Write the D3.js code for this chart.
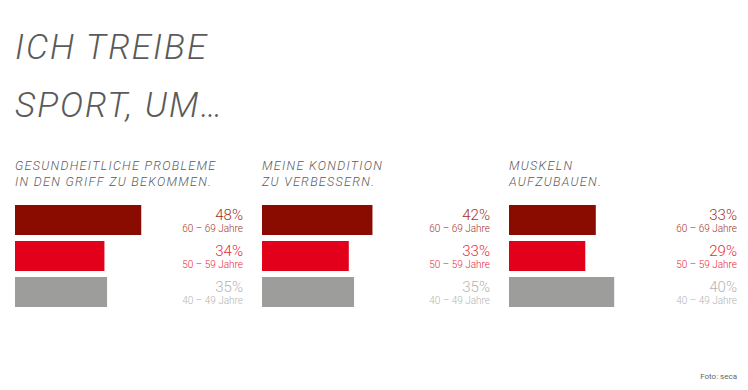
<!DOCTYPE html>
<html>
<head>
<meta charset="utf-8">
<script src="https://cdn.jsdelivr.net/npm/d3@7"></script>
<style>
  body { margin: 0; background: #fff; }
  svg { display: block; }
  text { font-family: Roboto, "Liberation Sans", Arial, sans-serif; }
</style>
</head>
<body>
<div id="chart"></div>
<script>
// chart data
const titleLines = ['ICH TREIBE', 'SPORT, UM…']
const panelTitles = [
    ['GESUNDHEITLICHE PROBLEME', 'IN DEN GRIFF ZU BEKOMMEN.'],
    ['MEINE KONDITION', 'ZU VERBESSERN.'],
    ['MUSKELN', 'AUFZUBAUEN.']
]
const ageGroups = ['60 – 69 Jahre', '50 – 59 Jahre', '40 – 49 Jahre']
const values = [
    [48, 34, 35],
    [42, 33, 35],
    [33, 29, 40]
]
const source = 'Foto: seca'

const width = 748
const height = 390
const barColor = ['#8a0b00', '#e2001a', '#9d9d9c']
const labelColor = ['#a3322a', '#e8283a', '#b4b4b4']

const svg = d3.select('#chart').append('svg')
    .attr('width', width)
    .attr('height', height)

// big title
svg.append('g').attr('class', 'title')
    .selectAll('text')
    .data(titleLines)
    .join('text')
    .attr('x', 15)
    .attr('y', (d, i) => 59 + i * 57.5)
    .attr('font-size', 35)
    .attr('font-weight', 300)
    .attr('font-style', 'italic')
    .attr('letter-spacing', 2)
    .attr('fill', '#5a5a5a')
    .text(d => d)

const px = d3.scalePoint().domain(d3.range(panelTitles.length)).range([15, 509])
const x = d3.scaleLinear().domain([0, 50]).range([0, 131.5])
const y = d3.scaleBand().domain(ageGroups).range([205, 307]).paddingInner(1 / 6)
const labelRight = 228

const panel = svg.selectAll('g.panel')
    .data(panelTitles.map((t, i) => ({ title: t, vals: values[i] })))
    .join('g')
    .attr('class', 'panel')
    .attr('transform', (d, i) => `translate(${px(i)},0)`)

panel.selectAll('text.sub')
    .data(d => d.title)
    .join('text')
    .attr('class', 'sub')
    .attr('x', 0)
    .attr('y', (d, i) => 170 + i * 16)
    .attr('font-size', 12.5)
    .attr('font-weight', 300)
    .attr('font-style', 'italic')
    .attr('letter-spacing', 1.3)
    .attr('fill', '#5a5a5a')
    .text(d => d)

const rows = panel.selectAll('g.row')
    .data(d => d.vals.map((v, i) => ({ v, age: ageGroups[i], i })))
    .join('g')
    .attr('class', 'row')

rows.append('rect')
    .attr('x', 0)
    .attr('y', d => y(d.age))
    .attr('width', d => x(d.v))
    .attr('height', y.bandwidth())
    .attr('fill', d => barColor[d.i])

rows.append('text')
    .attr('x', labelRight)
    .attr('y', d => y(d.age) + 15)
    .attr('text-anchor', 'end')
    .attr('font-size', 15)
    .attr('font-weight', 300)
    .attr('fill', d => labelColor[d.i])
    .text(d => d.v + '%')

rows.append('text')
    .attr('x', labelRight)
    .attr('y', d => y(d.age) + 27)
    .attr('text-anchor', 'end')
    .attr('font-size', 10)
    .attr('font-weight', 300)
    .attr('fill', d => labelColor[d.i])
    .text(d => d.age)

svg.append('text')
    .attr('x', 737)
    .attr('y', 379)
    .attr('text-anchor', 'end')
    .attr('font-size', 8)
    .attr('fill', '#666')
    .text(source)
</script>
</body>
</html>
